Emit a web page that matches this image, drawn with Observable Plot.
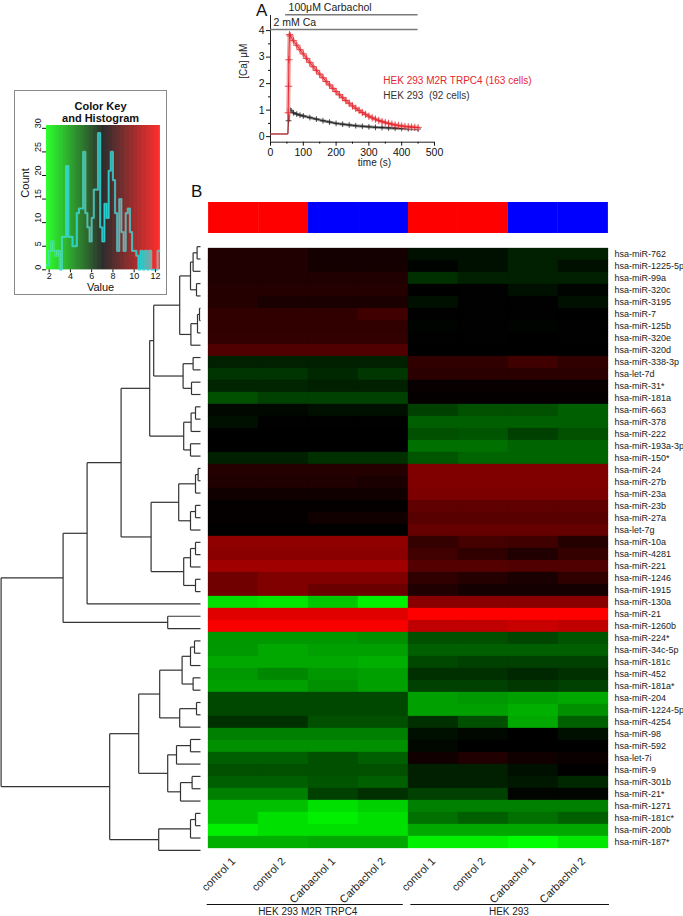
<!DOCTYPE html>
<html><head><meta charset="utf-8">
<script src="https://cdn.jsdelivr.net/npm/d3@7"></script>
<script src="https://cdn.jsdelivr.net/npm/@observablehq/plot@0.6"></script>
<style>
body{margin:0;background:#fff;}
#fig{position:relative;width:683px;height:916px;overflow:hidden;font-family:"Liberation Sans",Arial,Helvetica,sans-serif;color:#111;}
.lbl{position:absolute;font-size:17px;line-height:1;}
</style></head><body><div id="fig"></div>
<script>
const FONT = '"Liberation Sans",Arial,Helvetica,sans-serif';

// ---------- Panel A data ----------
const timeRed = [0,10,20,30,40,50,53,54,55,56,58,60,70,80,90,100,110,120,130,140,150,160,170,180,190,200,210,220,230,240,250,260,270,280,290,300,310,320,330,340,350,360,370,380,390,400,410,420,430,440,450];
const caRed   = [0.1,0.1,0.1,0.1,0.1,0.1,0.1,0.9,1.9,2.9,3.85,3.8,3.62,3.45,3.28,3.12,2.95,2.8,2.64,2.5,2.36,2.22,2.08,1.95,1.82,1.70,1.58,1.47,1.36,1.26,1.16,1.07,0.99,0.91,0.84,0.77,0.71,0.66,0.61,0.57,0.53,0.50,0.47,0.44,0.42,0.40,0.38,0.37,0.36,0.35,0.34];
const timeBlack = [0,10,20,30,40,50,53,55,57,60,70,80,90,100,120,140,160,180,200,220,240,260,280,300,320,340,360,380,400,420,450];
const caBlack   = [0.1,0.1,0.1,0.1,0.1,0.1,0.1,0.6,1.05,1.0,0.9,0.85,0.81,0.78,0.72,0.66,0.6,0.55,0.5,0.47,0.44,0.41,0.39,0.37,0.35,0.34,0.33,0.32,0.31,0.30,0.29];
const treatmentBars = [
  {label: "100μM Carbachol", start: 46, end: 450, level: 4.6},
  {label: "2 mM Ca", start: 0, end: 450, level: 4.04}
];
const legendA = [
  {label: "HEK 293 M2R TRPC4 (163 cells)", color: "#e3262f", t: 344, v: 2.12},
  {label: "HEK 293  (92 cells)", color: "#333333", t: 344, v: 1.55}
];

// ---------- Color key histogram ----------
const histCounts = [1,4,6,4,3,4,0,7,7,22,7,7,5,5,12,13,13,25,12,9,6,11,17,17,29,9,6,14,11,21,25,19,12,4,15,8,4,12,13,8,4,4,3,0,4,0,4,0,4,0,0,0,4];
const histFirstBreak = 1.8, histBinWidth = 0.2;

// ---------- Heatmap data ----------
const mirnas = ["hsa-miR-762","hsa-miR-1225-5p","hsa-miR-99a","hsa-miR-320c","hsa-miR-3195","hsa-miR-7","hsa-miR-125b","hsa-miR-320e","hsa-miR-320d","hsa-miR-338-3p","hsa-let-7d","hsa-miR-31*","hsa-miR-181a","hsa-miR-663","hsa-miR-378","hsa-miR-222","hsa-miR-193a-3p","hsa-miR-150*","hsa-miR-24","hsa-miR-27b","hsa-miR-23a","hsa-miR-23b","hsa-miR-27a","hsa-let-7g","hsa-miR-10a","hsa-miR-4281","hsa-miR-221","hsa-miR-1246","hsa-miR-1915","hsa-miR-130a","hsa-miR-21","hsa-miR-1260b","hsa-miR-224*","hsa-miR-34c-5p","hsa-miR-181c","hsa-miR-452","hsa-miR-181a*","hsa-miR-204","hsa-miR-1224-5p","hsa-miR-4254","hsa-miR-98","hsa-miR-592","hsa-let-7i","hsa-miR-9","hsa-miR-301b","hsa-miR-21*","hsa-miR-1271","hsa-miR-181c*","hsa-miR-200b","hsa-miR-187*"];
const sampleLabels = ["control 1","control 2","Carbachol 1","Carbachol 2","control 1","control 2","Carbachol 1","Carbachol 2"];
const sampleTreatment = ["control","control","Carbachol","Carbachol","control","control","Carbachol","Carbachol"];
const treatmentColors = {control: "#ff0000", Carbachol: "#0000ff"};
const cellLines = [{name: "HEK 293 M2R TRPC4", start: 0, end: 4}, {name: "HEK 293", start: 4, end: 8}];
const expression = [
[7.75,7.75,7.52,7.52,6.75,6.75,6.41,6.41],
[7.75,7.75,7.52,7.52,7.0,6.75,6.41,6.75],
[7.75,7.75,7.75,7.75,6.08,6.41,6.41,6.41],
[7.85,7.85,7.85,7.85,7.08,7.05,6.75,7.0],
[7.85,7.62,7.62,7.62,6.75,7.05,7.05,6.75],
[8.08,8.08,8.08,8.42,7.05,7.05,7.05,7.08],
[8.08,8.08,8.08,8.08,7.0,7.05,7.0,7.05],
[8.1,8.1,8.1,8.1,7.05,7.05,7.08,7.05],
[8.75,8.75,8.75,8.75,7.08,7.08,7.08,7.08],
[6.41,6.41,6.41,6.41,8.08,8.08,8.42,8.08],
[6.0,6.0,6.25,5.95,7.95,7.95,7.95,7.95],
[6.31,6.31,6.41,6.41,7.25,7.25,7.25,7.25],
[5.41,5.74,5.74,5.74,7.18,7.18,7.18,7.18],
[6.91,6.91,6.75,6.75,5.74,5.41,5.41,5.07],
[6.75,7.05,7.05,7.05,5.07,5.07,5.07,5.07],
[7.08,7.08,7.08,7.08,5.41,5.30,5.74,5.41],
[7.08,7.08,7.08,7.08,4.74,4.74,4.97,4.97],
[6.41,6.41,6.08,6.08,5.30,4.97,4.97,4.97],
[7.85,7.85,7.85,7.85,9.76,9.76,9.76,9.76],
[7.75,7.75,7.75,7.62,9.76,9.76,9.76,9.76],
[7.41,7.41,7.41,7.41,9.7,9.7,9.7,9.7],
[7.18,7.18,7.18,7.18,9.09,9.09,9.09,9.09],
[7.18,7.18,7.41,7.41,8.92,8.92,8.92,8.92],
[7.08,7.08,7.08,7.08,9.19,9.19,9.19,9.19],
[10.09,10.09,10.09,10.09,8.19,8.52,8.42,7.85],
[9.96,9.96,9.96,9.96,8.42,8.08,7.75,8.19],
[10.42,10.42,10.42,10.42,8.86,8.86,8.75,8.75],
[9.42,9.76,9.76,9.76,8.08,7.85,7.62,8.08],
[9.42,9.76,9.30,9.30,7.75,7.52,7.52,7.52],
[2.40,2.23,2.90,2.06,9.92,9.92,9.92,9.92],
[11.76,11.76,11.76,11.76,12.41,12.41,12.41,12.41],
[12.26,12.26,12.26,12.26,11.09,11.09,11.26,11.09],
[3.90,3.90,3.90,4.07,5.41,5.41,5.64,5.30],
[3.90,3.57,3.74,3.74,5.07,5.07,5.07,5.07],
[3.57,3.57,3.57,3.40,5.58,5.74,5.74,5.74],
[3.90,4.24,3.90,3.74,6.08,6.08,6.24,6.08],
[3.74,3.74,4.07,3.74,5.74,5.74,5.91,5.74],
[5.58,5.58,5.58,5.58,3.74,3.90,3.74,3.57],
[5.58,5.58,5.58,5.58,3.74,3.74,3.40,4.07],
[6.08,6.08,5.41,5.41,6.08,5.41,3.57,5.07],
[4.40,4.40,4.40,4.40,6.75,6.91,7.08,6.75],
[4.07,4.07,4.07,4.07,6.91,7.08,7.08,7.08],
[5.07,5.07,5.41,5.07,7.41,7.75,7.41,7.29],
[5.41,5.41,5.41,5.41,6.41,6.41,6.75,7.08],
[5.07,5.07,5.30,5.07,6.41,6.41,6.58,6.24],
[4.40,4.40,5.74,6.08,5.74,5.74,6.98,6.98],
[3.07,3.07,2.40,2.73,4.40,4.40,4.40,4.40],
[3.07,2.40,2.06,2.40,4.74,5.07,4.74,5.07],
[2.06,2.40,2.40,2.40,3.57,3.57,3.57,3.57],
[3.40,3.40,3.57,3.57,2.06,2.06,1.75,2.23]
];
// hclust-style merges: [a, b, height]; positive = row number, negative = earlier merge
const dendroMerges = [
[1,2,1.7],[-1,3,3.7],[4,5,2.0],[-2,-3,5.0],[6,7,0.5],[-5,8,1.5],[-6,9,4.8],[-4,-7,10.4],
[10,11,3.7],[12,13,4.5],[-9,-10,8.7],[-8,-11,23.4],[14,15,2.5],[-13,16,4.7],[17,18,5.0],[-14,-15,8.4],
[-12,-16,25.4],[19,20,1.2],[-18,21,2.5],[22,23,2.5],[-20,24,5.0],[-19,-21,10.9],[25,26,2.5],[-23,27,5.0],
[28,29,2.5],[-24,-25,8.4],[-22,-26,24.7],[-17,-27,39.7],[-28,30,56.7],[31,32,16.4],[-29,-30,68.7],
[33,34,3.0],[-32,35,5.0],[36,37,3.7],[-33,-34,9.2],[38,39,2.0],[-36,40,10.4],[-35,-37,20.4],
[41,42,5.0],[-39,43,12.0],[44,45,4.2],[-41,46,10.0],[-40,-42,16.4],[-38,-43,30.9],
[47,48,2.5],[-45,49,5.0],[-46,50,20.9],[-44,-47,45.4],[-31,-48,99.7]
];
const colorDomain = [1.75, 7.08, 12.41];

// ---------- helpers ----------
const fig = document.getElementById("fig");
function place(node, left, top) {
  const w = document.createElement("div");
  w.style.cssText = `position:absolute;left:${left}px;top:${top}px;`;
  w.appendChild(node);
  fig.appendChild(w);
  return w;
}
function label(text, left, top) {
  const d = document.createElement("div");
  d.className = "lbl"; d.textContent = text;
  d.style.left = left + "px"; d.style.top = top + "px";
  fig.appendChild(d);
}
const baseStyle = {background: "transparent", overflow: "visible", fontFamily: FONT, color: "#111"};
const colorScale = {type: "linear", domain: colorDomain, range: ["#00ff00", "#000000", "#ff0000"], interpolate: "rgb"};

// ---------- Panel A ----------
const red = timeRed.map((t, i) => ({t, v: caRed[i]}));
const blk = timeBlack.map((t, i) => ({t, v: caBlack[i]}));
const fmt = d => String(d);
const panelA = Plot.plot({
  width: 330, height: 175, marginLeft: 70, marginRight: 96, marginTop: 15, marginBottom: 33.3,
  style: {...baseStyle, fontSize: "10.5px"},
  x: {domain: [0, 500]}, y: {domain: [-0.21, 4.57]},
  marks: [
    Plot.ruleX([0], {y1: -0.21, y2: 4.57, stroke: "#222"}),
    Plot.ruleY([-0.21], {x1: 0, x2: 500, stroke: "#222"}),
    Plot.axisY({ticks: [0,1,2,3,4], tickSize: 4, tickPadding: 2, tickFormat: fmt, label: null, fontSize: 10.5}),
    Plot.axisY({ticks: [0.5,1.5,2.5,3.5], tickSize: 2, tickFormat: () => "", label: null}),
    Plot.axisX({ticks: [0,100,200,300,400,500], tickSize: 4, tickPadding: 2, tickFormat: fmt, label: null, fontSize: 10.5}),
    Plot.axisX({ticks: [50,150,250,350,450], tickSize: 2, tickFormat: () => "", label: null}),
    Plot.ruleY(treatmentBars, {y: "level", x1: "start", x2: "end", stroke: "#7a7a7a", strokeWidth: 1.5}),
    Plot.text(treatmentBars, {x: "start", y: "level", text: "label", textAnchor: "start", dx: 3, dy: -7, fontSize: 10.5, fill: "#222"}),
    Plot.line(blk.filter(d => d.t > 53), {x: "t", y: "v", stroke: "#9a9a9a", strokeWidth: 3}),
    Plot.line(blk, {x: "t", y: "v", stroke: "#333", strokeWidth: 1}),
    Plot.dot(blk.filter(d => d.t > 53), {x: "t", y: "v", symbol: "plus", r: 2, stroke: "#222", strokeWidth: 0.8}),
    Plot.line(red.filter(d => d.t > 53), {x: "t", y: "v", stroke: "#f5a3a3", strokeWidth: 4}),
    Plot.line(red, {x: "t", y: "v", stroke: "#e8333a", strokeWidth: 1}),
    Plot.dot(red.filter(d => d.t > 53), {x: "t", y: "v", symbol: "plus", r: 2.5, stroke: "#e3262f", strokeWidth: 0.8}),
    Plot.text(legendA, {x: "t", y: "v", text: "label", fill: "color", textAnchor: "start", fontSize: 10}),
    Plot.text(["[Ca] μM"], {frameAnchor: "left", dx: -27, rotate: -90, fontSize: 10, fill: "#222"}),
    Plot.text(["time (s)"], {frameAnchor: "bottom", dx: 22, dy: 24, fontSize: 10, fill: "#222"})
  ]
});
place(panelA, 200, 0);

// ---------- Color key ----------
const keyBox = document.createElement("div");
keyBox.style.cssText = "position:absolute;left:14px;top:90px;width:151px;height:203px;border:1px solid #8a8a8a;";
fig.appendChild(keyBox);
const gradient = d3.range(colorDomain[0], colorDomain[2], 0.05).map(v => ({v}));
const edges = histCounts.map((c, i) => histFirstBreak + i * histBinWidth);
const histPts = histCounts.map((c, i) => ({x: edges[i], y: c}));
histPts.push({x: histFirstBreak + histCounts.length * histBinWidth, y: histCounts[histCounts.length - 1]});
const keyPlot = Plot.plot({
  width: 152, height: 205, marginLeft: 32, marginRight: 6.7, marginTop: 35, marginBottom: 25.7,
  style: baseStyle,
  x: {domain: [colorDomain[0], colorDomain[2]]}, y: {domain: [0, 30.6]},
  color: colorScale,
  marks: [
    Plot.rect(gradient, {x1: "v", x2: d => d.v + 0.06, y1: 0, y2: 30.6, fill: "v"}),
    Plot.line(histPts, {x: "x", y: "y", curve: "step-after", stroke: "#7ff0f0", strokeWidth: 2.2, strokeOpacity: 0.5}),
    Plot.line(histPts, {x: "x", y: "y", curve: "step-after", stroke: "#22d3d3", strokeWidth: 1}),
    Plot.axisX({ticks: [2,4,6,8,10,12], tickSize: 3, tickPadding: 0, tickFormat: fmt, fontSize: 9, label: null}),
    Plot.axisY({ticks: [0,5,10,15,20,25,30], tickSize: 4, tickFormat: () => "", label: null}),
    Plot.text([0,5,10,15,20,25,30], {y: d => d, text: d => String(d), frameAnchor: "left", dx: -8, rotate: -90, fontSize: 9}),
    Plot.text(["Color Key"], {frameAnchor: "top", dx: -2.6, dy: -23, fontSize: 11, fontWeight: "bold"}),
    Plot.text(["and Histogram"], {frameAnchor: "top", dx: -2.6, dy: -11, fontSize: 11, fontWeight: "bold"}),
    Plot.text(["Count"], {frameAnchor: "left", dx: -21, rotate: -90, fontSize: 11}),
    Plot.text(["Value"], {frameAnchor: "bottom", dx: -2.6, dy: 21, fontSize: 11})
  ]
});
place(keyPlot, 14, 90);

// ---------- Dendrogram ----------
const nodes = [];
const segs = [];
const nodePos = ref => ref > 0 ? {y: ref - 0.5, h: 0} : nodes[-ref - 1];
dendroMerges.forEach(([a, b, h]) => {
  const A = nodePos(a), B = nodePos(b);
  segs.push({x1: A.h, y1: A.y, x2: h, y2: A.y});
  segs.push({x1: B.h, y1: B.y, x2: h, y2: B.y});
  segs.push({x1: h, y1: A.y, x2: h, y2: B.y});
  nodes.push({y: (A.y + B.y) / 2, h});
});
const dendro = Plot.plot({
  width: 205, height: 636, marginLeft: 0, marginRight: 5, marginTop: 10, marginBottom: 10,
  style: baseStyle,
  x: {domain: [0, 100], reverse: true, axis: null},
  y: {domain: [0, mirnas.length], reverse: true, axis: null},
  marks: [
    Plot.link(segs, {x1: "x1", y1: "y1", x2: "x2", y2: "y2", stroke: "#333", strokeWidth: 1.2})
  ]
});
place(dendro, 0, 230);

// ---------- Side colour bar ----------
const sideBar = Plot.plot({
  width: 402.3, height: 31, margin: 0,
  style: baseStyle,
  x: {type: "band", domain: d3.range(sampleLabels.length), padding: 0, axis: null},
  marks: [
    Plot.cell(d3.range(sampleLabels.length), {x: d => d, fill: d => treatmentColors[sampleTreatment[d]], inset: 0})
  ]
});
place(sideBar, 206.7, 202);

// ---------- Heatmap ----------
const cells = [];
mirnas.forEach((m, r) => expression[r].forEach((v, c) => cells.push({mirna: m, col: c, value: v})));
const heat = Plot.plot({
  width: 493, height: 680, marginLeft: 16.7, marginRight: 74, marginTop: 4, marginBottom: 60,
  style: baseStyle,
  x: {type: "band", domain: d3.range(sampleLabels.length), padding: 0},
  y: {type: "band", domain: mirnas, padding: 0},
  color: colorScale,
  marks: [
    Plot.cell(cells, {x: "col", y: "mirna", fill: "value", stroke: "value", strokeWidth: 0.3, inset: 0}),
    Plot.axisY({anchor: "right", tickSize: 0, tickPadding: 5, fontSize: 9, fill: "#222", label: null}),
    Plot.axisX({anchor: "bottom", tickSize: 0, tickPadding: 3, tickRotate: -45, fontSize: 11, fill: "#222",
                tickFormat: i => sampleLabels[i], label: null})
  ]
});
place(heat, 190, 236);

// ---------- Cell line brackets ----------
const groupsPlot = Plot.plot({
  width: 493, height: 20, marginLeft: 16.7, marginRight: 74, marginTop: 0, marginBottom: 0,
  style: baseStyle,
  x: {domain: [0, sampleLabels.length], axis: null},
  y: {domain: [0, 1], axis: null},
  marks: [
    Plot.ruleY(cellLines, {y: 0.6, x1: d => d.start + (d.start ? 0.05 : 0), x2: d => d.end - (d.end < 8 ? 0.1 : 0), stroke: "#111", strokeWidth: 1}),
    Plot.text(cellLines, {x: d => (d.start + d.end) / 2, y: 0.22, text: "name", fontSize: 10, fill: "#222"})
  ]
});
place(groupsPlot, 190, 896);

label("A", 256, 2);
label("B", 191, 183);
</script></body></html>
